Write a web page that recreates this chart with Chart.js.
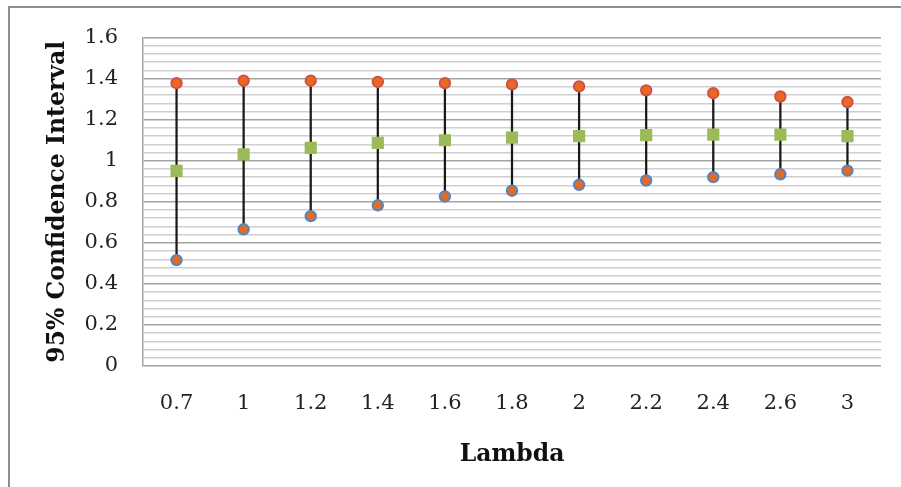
<!DOCTYPE html>
<html>
<head>
<meta charset="utf-8">
<script src="https://cdn.jsdelivr.net/npm/chart.js@4.4.1/dist/chart.umd.min.js"></script>
<style>
  html, body { margin: 0; padding: 0; background: #fff; overflow: hidden; }
  #frame {
    position: absolute; left: 8px; top: 6px; width: 1200px; height: 800px;
    border-left: 2px solid #8e8e8e; border-top: 2px solid #8e8e8e;
  }
  #wrap { position: absolute; left: 0; top: 0; width: 901px; height: 487px; }
</style>
</head>
<body>
<div id="frame"></div>
<div id="wrap"><canvas id="ciChart" width="901" height="487"></canvas></div>
<script>
// Lambda values on the x axis
const lambdas = ['0.7', '1', '1.2', '1.4', '1.6', '1.8', '2', '2.2', '2.4', '2.6', '3'];

// Upper bound, point estimate and lower bound of the 95% interval
const upperBound = [1.378, 1.390, 1.390, 1.384, 1.378, 1.372, 1.362, 1.343, 1.329, 1.313, 1.286];
const estimate   = [0.951, 1.031, 1.063, 1.087, 1.100, 1.113, 1.120, 1.125, 1.127, 1.127, 1.120];
const lowerBound = [0.516, 0.666, 0.730, 0.783, 0.826, 0.854, 0.883, 0.904, 0.920, 0.934, 0.952];

// Labelled y ticks (every 0.2) and the minor grid step between them
const yTickLabels = ['0', '0.2', '0.4', '0.6', '0.8', '1', '1.2', '1.4', '1.6'];
const majorStep = 0.2;
const minorStep = 0.04;

const serif = "'DejaVu Serif', 'Liberation Serif', serif";

function isMajor(v) {
  const i = Math.round(v / majorStep);
  return Math.abs(v - i * majorStep) < 1e-6;
}

const ctx = document.getElementById('ciChart').getContext('2d');

new Chart(ctx, {
  type: 'bar',
  data: {
    labels: lambdas,
    datasets: [
      {
        // high-low line from lower to upper bound
        type: 'bar',
        label: 'range',
        data: lowerBound.map((lo, i) => [lo, upperBound[i]]),
        backgroundColor: '#1a1a1a',
        barThickness: 1.6,
        order: 10
      },
      {
        type: 'line',
        label: 'Upper',
        data: upperBound,
        showLine: false,
        pointStyle: 'circle',
        pointRadius: 5.2,
        pointBorderWidth: 2,
        pointBackgroundColor: '#e8691f',
        pointBorderColor: '#d2504a',
        order: 1
      },
      {
        type: 'line',
        label: 'Estimate',
        data: estimate,
        showLine: false,
        pointStyle: 'rect',
        pointRadius: 8.6,
        pointBorderWidth: 0,
        pointBackgroundColor: '#9bbb59',
        pointBorderColor: '#9bbb59',
        order: 1
      },
      {
        type: 'line',
        label: 'Lower',
        data: lowerBound,
        showLine: false,
        pointStyle: 'circle',
        pointRadius: 5.2,
        pointBorderWidth: 2,
        pointBackgroundColor: '#e8691f',
        pointBorderColor: '#4f86c6',
        order: 1
      }
    ]
  },
  options: {
    responsive: false,
    animation: false,
    layout: { padding: { left: 30, top: 25, right: 20, bottom: 0 } },
    plugins: {
      legend: { display: false },
      tooltip: { enabled: false }
    },
    scales: {
      x: {
        grid: { display: false },
        border: { display: false },
        ticks: {
          color: '#222',
          font: { family: serif, size: 21 },
          padding: 17,
          maxRotation: 0
        },
        title: {
          display: true,
          text: 'Lambda',
          color: '#111',
          font: { family: serif, size: 23.5, weight: 'bold' },
          padding: { top: 0, bottom: 18 }
        },
        afterFit: (scale) => { scale.height = 121; }
      },
      y: {
        min: 0,
        max: 1.6,
        afterBuildTicks: (scale) => {
          const ticks = [];
          const n = Math.round(1.6 / minorStep);
          for (let i = 0; i <= n; i++) ticks.push({ value: +(i * minorStep).toFixed(4) });
          scale.ticks = ticks;
        },
        grid: {
          drawTicks: false,
          lineWidth: 1.5,
          color: (c) => isMajor(c.tick.value) ? '#a3a3a3' : '#cfcfcf'
        },
        border: { display: true, color: '#a3a3a3', width: 1.5 },
        ticks: {
          autoSkip: false,
          color: '#222',
          font: { family: serif, size: 21 },
          padding: 25,
          callback: (v) => isMajor(v) ? yTickLabels[Math.round(v / majorStep)] : ''
        },
        title: {
          display: true,
          text: '95% Confidence Interval',
          color: '#111',
          font: { family: serif, size: 23.5, weight: 'bold' },
          padding: { top: 14, bottom: 0 }
        },
        afterFit: (scale) => { scale.width = 113; }
      }
    }
  }
});
</script>
</body>
</html>
